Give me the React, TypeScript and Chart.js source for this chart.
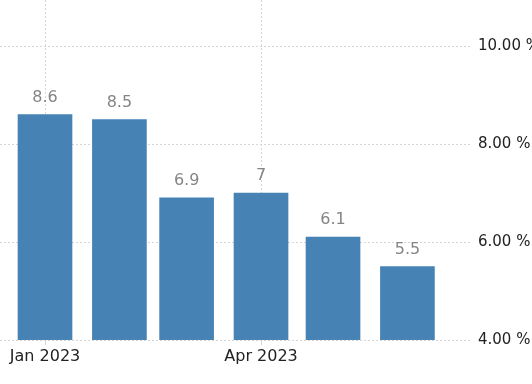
import React, { useEffect, useRef } from "react";
import { Chart, registerables } from "chart.js";

Chart.register(...registerables);

const months = ["Jan 2023", "Feb 2023", "Mar 2023", "Apr 2023", "May 2023", "Jun 2023"];
const dayOffsets = [0, 31, 59, 90, 120, 151];
const values = [8.6, 8.5, 6.9, 7, 6.1, 5.5];
const valueLabels = ["8.6", "8.5", "6.9", "7", "6.1", "5.5"];
const xTickDays = [0, 90];
const xTickLabels = ["Jan 2023", "Apr 2023"];
const yTicks = [4, 6, 8, 10];

const FONT = "'DejaVu Sans', Verdana, sans-serif";

const valueLabelPlugin = {
  id: "valueLabels",
  afterDatasetsDraw(chart: any) {
    const ctx = chart.ctx;
    const meta = chart.getDatasetMeta(0);
    ctx.save();
    ctx.font = `16px ${FONT}`;
    ctx.fillStyle = "#858585";
    ctx.textAlign = "center";
    ctx.textBaseline = "middle";
    meta.data.forEach((el: any, i: number) => {
      ctx.fillText(valueLabels[i], el.x, el.y - 17);
    });
    ctx.restore();
  },
};

export default function App() {
  const ref = useRef<HTMLCanvasElement | null>(null);
  useEffect(() => {
    if (!ref.current) return;
    const chart = new Chart(ref.current, {
      type: "bar",
      data: {
        datasets: [
          {
            label: "Rate",
            data: dayOffsets.map((d, i) => ({ x: d, y: values[i] })),
            backgroundColor: "#4682b4",
            borderWidth: 0,
            barThickness: 54,
          },
        ],
      },
      options: {
        animation: false,
        responsive: false,
        maintainAspectRatio: false,
        layout: { padding: 0 },
        plugins: {
          legend: { display: false },
          tooltip: { enabled: false },
        },
        scales: {
          x: {
            type: "linear",
            offset: false,
            min: -18.75,
            max: 177.9,
            border: { display: false, dash: [2, 2] },
            grid: {
              offset: false,
              color: "#d6d6d6",
              tickLength: 5,
              drawTicks: true,
            },
            ticks: {
              font: { family: FONT, size: 16 },
              color: "#222",
              padding: 2,
              maxRotation: 0,
              autoSkip: false,
              callback: (v: any) => {
                const idx = xTickDays.indexOf(Number(v));
                return idx >= 0 ? xTickLabels[idx] : "";
              },
            },
            afterBuildTicks: (scale: any) => {
              scale.ticks = xTickDays.map((v) => ({ value: v }));
            },
            afterFit: (scale: any) => {
              scale.height = 44;
              scale.paddingLeft = 0;
              scale.paddingRight = 0;
            },
          } as any,
          y: {
            position: "right",
            min: 4,
            max: 10.94,
            border: { display: false, dash: [2, 2] },
            grid: {
              color: "#d6d6d6",
              drawTicks: false,
            },
            ticks: {
              font: { family: FONT, size: 15 },
              color: "#222",
              padding: 6,
              callback: (v: any) => Number(v).toFixed(2) + " %",
            },
            afterBuildTicks: (scale: any) => {
              scale.ticks = yTicks.map((v) => ({ value: v }));
            },
            afterFit: (scale: any) => {
              scale.width = 60;
              scale.paddingTop = 0;
              scale.paddingBottom = 0;
            },
          } as any,
        },
      },
      plugins: [valueLabelPlugin],
    });
    return () => chart.destroy();
  }, []);
  return (
    <div style={{ position: "fixed", left: 0, top: 0, width: 532, height: 384, background: "#fff" }}>
      <canvas ref={ref} width={532} height={384} aria-label={months.join(", ")} />
    </div>
  );
}
